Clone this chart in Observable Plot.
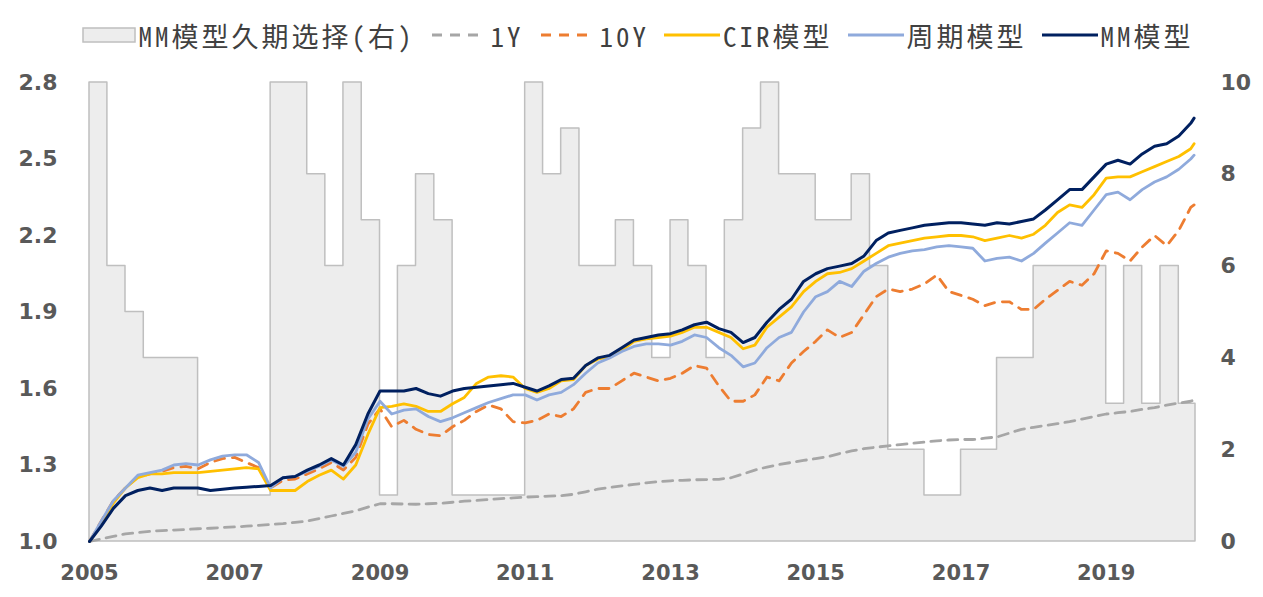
<!DOCTYPE html>
<html>
<head>
<meta charset="utf-8">
<script src="https://cdn.jsdelivr.net/npm/d3@7"></script>
<script src="https://cdn.jsdelivr.net/npm/@observablehq/plot@0.6"></script>
<style>
  html, body { margin: 0; padding: 0; background: #fff; }
  #legend { height: 62px; display: flex; align-items: center; justify-content: center; gap: 15px;
    font-family: "Noto Sans Mono CJK SC", "Noto Sans CJK SC", monospace; font-size: 27px; letter-spacing: 3px; color: #404040; padding-left: 12px; padding-top: 8px; box-sizing: border-box; }
  .item { display: flex; align-items: center; gap: 3px; }
  .item svg { display: block; }
</style>
</head>
<body>
<div id="legend"></div>
<div id="chart"></div>
<script>
// ---- data ----
const xTickLabels = ["2005","2007","2009","2011","2013","2015","2017","2019"];
const leftTicks = [1.0, 1.3, 1.6, 1.9, 2.2, 2.5, 2.8];
const rightTicks = [0, 2, 4, 6, 8, 10];

const dates = [
 "2005-01","2005-03","2005-05","2005-07","2005-09","2005-11",
 "2006-01","2006-03","2006-05","2006-07","2006-09","2006-11",
 "2007-01","2007-03","2007-05","2007-07","2007-09","2007-11",
 "2008-01","2008-03","2008-05","2008-07","2008-09","2008-11",
 "2009-01","2009-03","2009-05","2009-07","2009-09","2009-11",
 "2010-01","2010-03","2010-05","2010-07","2010-09","2010-11",
 "2011-01","2011-03","2011-05","2011-07","2011-09","2011-11",
 "2012-01","2012-03","2012-05","2012-07","2012-09","2012-11",
 "2013-01","2013-03","2013-05","2013-07","2013-09","2013-11",
 "2014-01","2014-03","2014-05","2014-07","2014-09","2014-11",
 "2015-01","2015-03","2015-05","2015-07","2015-09","2015-11",
 "2016-01","2016-03","2016-05","2016-07","2016-09","2016-11",
 "2017-01","2017-03","2017-05","2017-07","2017-09","2017-11",
 "2018-01","2018-03","2018-05","2018-07","2018-09","2018-11",
 "2019-01","2019-03","2019-05","2019-07","2019-09","2019-11",
 "2020-01","2020-03","2020-03-18"
];

const mm = [
 1.00,1.06,1.13,1.18,1.20,1.21,
 1.20,1.21,1.21,1.21,1.20,1.205,
 1.21,1.213,1.216,1.22,1.25,1.255,
 1.28,1.30,1.325,1.30,1.38,1.50,
 1.59,1.59,1.59,1.60,1.58,1.57,
 1.59,1.60,1.605,1.61,1.615,1.62,
 1.605,1.59,1.61,1.635,1.64,1.69,
 1.72,1.73,1.76,1.79,1.80,1.81,
 1.815,1.83,1.85,1.86,1.835,1.82,
 1.78,1.80,1.86,1.91,1.95,2.02,
 2.05,2.07,2.08,2.09,2.12,2.18,
 2.21,2.22,2.23,2.24,2.245,2.25,
 2.25,2.245,2.24,2.25,2.245,2.255,
 2.265,2.30,2.34,2.38,2.38,2.43,
 2.48,2.495,2.48,2.52,2.55,2.56,
 2.59,2.64,2.66
];

const cir = [
 1.00,1.07,1.15,1.21,1.25,1.265,
 1.265,1.27,1.27,1.27,1.275,1.28,
 1.285,1.29,1.285,1.20,1.20,1.20,
 1.235,1.26,1.28,1.245,1.30,1.42,
 1.525,1.53,1.54,1.53,1.51,1.51,
 1.54,1.565,1.62,1.645,1.65,1.645,
 1.60,1.585,1.60,1.63,1.635,1.69,
 1.715,1.725,1.75,1.785,1.795,1.80,
 1.805,1.82,1.84,1.84,1.82,1.80,
 1.756,1.77,1.84,1.88,1.92,1.98,
 2.02,2.05,2.055,2.07,2.10,2.13,
 2.16,2.17,2.18,2.19,2.195,2.20,
 2.20,2.195,2.18,2.19,2.20,2.19,
 2.205,2.24,2.29,2.32,2.31,2.36,
 2.425,2.43,2.43,2.45,2.47,2.49,
 2.51,2.54,2.56
];

const cycle = [
 1.00,1.08,1.16,1.21,1.26,1.27,
 1.28,1.30,1.305,1.30,1.32,1.335,
 1.34,1.34,1.31,1.21,1.25,1.255,
 1.275,1.295,1.32,1.295,1.35,1.48,
 1.55,1.50,1.515,1.52,1.49,1.47,
 1.485,1.505,1.525,1.545,1.56,1.575,
 1.575,1.555,1.575,1.585,1.615,1.66,
 1.70,1.72,1.745,1.765,1.775,1.775,
 1.77,1.785,1.81,1.80,1.76,1.73,
 1.685,1.70,1.76,1.80,1.82,1.90,
 1.96,1.98,2.02,2.00,2.06,2.09,
 2.115,2.13,2.14,2.145,2.155,2.16,
 2.155,2.15,2.10,2.11,2.115,2.10,
 2.13,2.17,2.21,2.25,2.24,2.30,
 2.36,2.37,2.34,2.38,2.41,2.43,
 2.46,2.50,2.515
];

const y10 = [
 1.00,1.08,1.16,1.21,1.255,1.265,
 1.275,1.29,1.295,1.285,1.31,1.325,
 1.33,1.31,1.29,1.21,1.24,1.245,
 1.265,1.285,1.31,1.28,1.33,1.46,
 1.52,1.45,1.475,1.44,1.42,1.415,
 1.45,1.475,1.51,1.535,1.52,1.47,
 1.465,1.475,1.50,1.49,1.52,1.585,
 1.60,1.60,1.63,1.66,1.645,1.63,
 1.64,1.66,1.69,1.68,1.61,1.55,
 1.55,1.575,1.645,1.63,1.70,1.745,
 1.785,1.83,1.80,1.82,1.89,1.96,
 1.99,1.98,1.99,2.01,2.045,1.98,
 1.965,1.95,1.925,1.94,1.94,1.91,
 1.91,1.95,1.985,2.02,2.005,2.05,
 2.14,2.13,2.10,2.155,2.20,2.16,
 2.22,2.31,2.32
];

const y1 = [
 1.00,1.01,1.02,1.03,1.035,1.04,
 1.043,1.045,1.047,1.05,1.052,1.055,
 1.057,1.06,1.063,1.067,1.07,1.075,
 1.08,1.09,1.10,1.11,1.12,1.135,
 1.148,1.148,1.147,1.146,1.148,1.15,
 1.154,1.158,1.161,1.165,1.168,1.171,
 1.174,1.176,1.178,1.18,1.185,1.195,
 1.205,1.212,1.218,1.224,1.23,1.235,
 1.238,1.24,1.242,1.243,1.244,1.25,
 1.265,1.28,1.292,1.302,1.31,1.318,
 1.325,1.332,1.345,1.355,1.364,1.37,
 1.375,1.38,1.385,1.39,1.395,1.398,
 1.40,1.40,1.405,1.41,1.425,1.44,
 1.448,1.455,1.462,1.47,1.48,1.49,
 1.50,1.505,1.51,1.518,1.525,1.535,
 1.543,1.55,1.555
];

const qDates = [
 "2005-01","2005-04","2005-07","2005-10",
 "2006-01","2006-04","2006-07","2006-10",
 "2007-01","2007-04","2007-07","2007-10",
 "2008-01","2008-04","2008-07","2008-10",
 "2009-01","2009-04","2009-07","2009-10",
 "2010-01","2010-04","2010-07","2010-10",
 "2011-01","2011-04","2011-07","2011-10",
 "2012-01","2012-04","2012-07","2012-10",
 "2013-01","2013-04","2013-07","2013-10",
 "2014-01","2014-04","2014-07","2014-10",
 "2015-01","2015-04","2015-07","2015-10",
 "2016-01","2016-04","2016-07","2016-10",
 "2017-01","2017-04","2017-07","2017-10",
 "2018-01","2018-04","2018-07","2018-10",
 "2019-01","2019-04","2019-07","2019-10",
 "2020-01","2020-03-25"
];
const duration = [
 10,6,5,4, 4,4,1,1, 1,1,10,10, 8,6,10,7, 1,6,8,7, 1,1,1,1,
 10,8,9,6, 6,7,6,4, 7,6,4,7, 9,10,8,8, 7,7,8,6, 2,2,1,1,
 2,2,4,4, 6,6,6,6, 3,6,3,6, 3,3
];

const seriesNames = ["MM模型久期选择(右)", "1Y", "10Y", "CIR模型", "周期模型", "MM模型"];
const colors = ["#EDEDED", "#A6A6A6", "#ED7D31", "#FFC000", "#8FAADC", "#002060"];

// ---- scales helpers ----
const leftMin = 1.0, leftMax = 2.8, rightMax = 10;
const toLeft = v => leftMin + v * (leftMax - leftMin) / rightMax;
const parse = s => new Date(s.length === 7 ? s + "-01T00:00:00Z" : s + "T00:00:00Z");

const lineData = arr => dates.map((d, i) => ({date: parse(d), v: arr[i]}));
const areaData = qDates.map((d, i) => ({date: parse(d), v: duration[i]}));

const font = "'DejaVu Sans', Verdana, sans-serif";

const chart = Plot.plot({
  width: 1263,
  height: 535,
  marginLeft: 89,
  marginRight: 68,
  marginTop: 20,
  marginBottom: 56,
  style: {fontFamily: font, background: "#fff"},
  x: {type: "utc", domain: [parse("2005-01"), parse("2020-03-25")]},
  y: {domain: [leftMin, leftMax]},
  marks: [
    Plot.areaY(areaData, {x: "date", y1: () => leftMin, y2: d => toLeft(d.v), curve: "step-after",
      fill: colors[0], stroke: "#BFBFBF", strokeWidth: 1.5}),
    Plot.line(lineData(y1), {x: "date", y: "v", stroke: colors[1], strokeWidth: 2.8, strokeDasharray: "10,7"}),
    Plot.line(lineData(y10), {x: "date", y: "v", stroke: colors[2], strokeWidth: 2.8, strokeDasharray: "10,8"}),
    Plot.line(lineData(cir), {x: "date", y: "v", stroke: colors[3], strokeWidth: 2.8}),
    Plot.line(lineData(cycle), {x: "date", y: "v", stroke: colors[4], strokeWidth: 2.8}),
    Plot.line(lineData(mm), {x: "date", y: "v", stroke: colors[5], strokeWidth: 3}),
    Plot.axisX(xTickLabels.map(parse), {tickSize: 0, tickPadding: 24, tickFormat: d => String(d.getUTCFullYear()),
      fontSize: 21, fontWeight: "bold", color: "#595959", label: null}),
    Plot.axisY(leftTicks, {anchor: "left", tickSize: 0, tickPadding: 32, tickFormat: d3.format(".1f"),
      fontSize: 22, fontWeight: "bold", color: "#595959", label: null}),
    Plot.axisY(rightTicks.map(toLeft), {anchor: "right", tickSize: 0, tickPadding: 25,
      tickFormat: d => String(Math.round((d - leftMin) * rightMax / (leftMax - leftMin))),
      fontSize: 22, fontWeight: "bold", color: "#595959", label: null})
  ]
});
document.getElementById("chart").appendChild(chart);

// ---- legend ----
const legend = document.getElementById("legend");
const swatches = [
  `<svg width="54" height="20"><rect x="1" y="3" width="52" height="14" fill="${colors[0]}" stroke="#BFBFBF" stroke-width="1.5"/></svg>`,
  `<svg width="58" height="20"><line x1="2" y1="10" x2="56" y2="10" stroke="${colors[1]}" stroke-width="3" stroke-dasharray="10,8"/></svg>`,
  `<svg width="58" height="20"><line x1="2" y1="10" x2="56" y2="10" stroke="${colors[2]}" stroke-width="3" stroke-dasharray="10,8"/></svg>`,
  `<svg width="56" height="20"><line x1="0" y1="10" x2="56" y2="10" stroke="${colors[3]}" stroke-width="3"/></svg>`,
  `<svg width="56" height="20"><line x1="0" y1="10" x2="56" y2="10" stroke="${colors[4]}" stroke-width="3"/></svg>`,
  `<svg width="56" height="20"><line x1="0" y1="10" x2="56" y2="10" stroke="${colors[5]}" stroke-width="3"/></svg>`
];
seriesNames.forEach((name, i) => {
  const el = document.createElement("div");
  el.className = "item";
  el.innerHTML = swatches[i] + `<span>${name}</span>`;
  legend.appendChild(el);
});
</script>
</body>
</html>
